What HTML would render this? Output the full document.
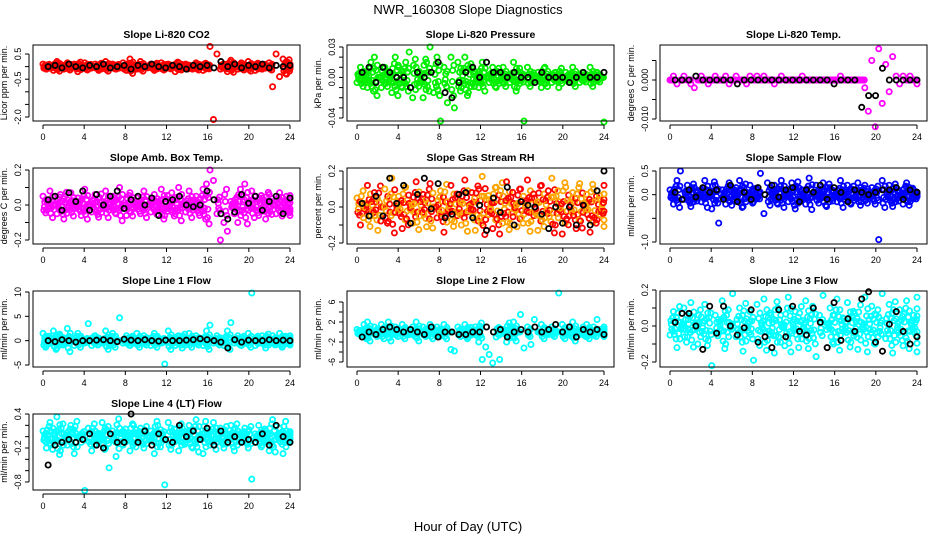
<!DOCTYPE html>
<html><head><meta charset="utf-8"><style>
body{margin:0;background:#fff;}
svg{font-family:"Liberation Sans",sans-serif;}
</style></head><body>
<svg id="c" width="936" height="540" xmlns="http://www.w3.org/2000/svg">
<rect width="936" height="540" fill="#fff"/>
<text x="468" y="14" text-anchor="middle" font-size="13">NWR_160308  Slope Diagnostics</text>
<text x="468" y="531" text-anchor="middle" font-size="13">Hour of Day (UTC)</text>
</svg>
<script>
const xTicks=[0,4,8,12,16,20,24];
const co2Col=[0.1,-0.1,0.05,-0.15,0.2,0,-0.1,0.15,-0.05,0.1,-0.2,0.05,0.15,-0.1,0,0.1,-0.15,0.05,0.2,-0.05,0.1,-0.1,0,0.15,-0.15,0.3,0.05,-0.1,0.2,0,-0.05,0.1,-0.15,0.05,0.15,-0.1,0.1,0,-0.2,0.15,-0.05,0.1,0.05,-0.1,0.15,0,-0.15,0.1,0.8,-2.1,0.5,-0.1,0.1,-0.2,0.25,0,-0.1,0.15,-0.05,0.2,0,-0.15,0.1,-0.1,0.05,0.15,-0.8,0.5,-0.4,0.3,-0.3,0.1];
const co2Blk=[0,0.05,-0.05,0.1,0,-0.05,0.05,0,0.1,-0.05,0,0.05,-0.1,0.05,0,0.1,0,-0.05,0.05,0,-0.1,0.05,0,0.05,-0.05,0.2,0,0.1,-0.05,0.05,0,0.1,-0.05,0.05,0,0.05];
const presCol=[-0.005,0.01,0.005,-0.01,0.015,0.02,0,-0.01,0.01,0.005,-0.015,0.02,0.01,-0.01,0.015,0.025,-0.02,0.01,0.005,-0.02,0.015,0.03,-0.015,0.02,-0.043,0.01,-0.025,0.02,-0.03,0.015,-0.01,0.02,-0.015,0.01,0.005,-0.01,0.015,0,-0.005,0.01,-0.01,0.005,0.01,0,-0.005,0.015,-0.01,0.005,-0.043,0.01,-0.005,0,0.005,-0.01,0.01,0,-0.005,0.005,-0.01,0,0.005,-0.005,0.01,0,-0.005,0.005,0,0.01,-0.005,0.005,0,-0.044];
const presBlk=[0.005,0.01,-0.005,0.01,0.005,0,0,-0.01,0.005,0,0.005,0.015,-0.015,-0.02,-0.005,0.005,0.01,0,0.015,0.005,0.005,0,0.005,0,0,-0.005,0.005,0,0,0,-0.005,0,0.005,0,0,0.005];
const tempCol=[0,0.001,-0.001,0,0.001,0,-0.001,-0.002,0,0.001,0,-0.001,0,0.001,0,0,0.001,-0.001,0,0.001,0,0,-0.001,0.001,0,0.001,0,0.001,0,0,-0.001,0,0.001,0,0,0,0,0,0.001,0,0,0,0,0,0,0,0,0,0,0.001,0,0,0,0,0,0,-0.002,-0.008,0.005,-0.012,0.008,-0.006,0.004,-0.003,0.006,0.001,-0.001,0.001,0,0.001,0,-0.001];
const tempBlk=[0,0,0,0.001,0,0,0,0,0,-0.001,0,0,0,0,0,0,0,0,0,0,0,0,0,-0.001,0,0,0,-0.007,-0.004,-0.004,0.003,0,0,0,0,0];
const ambCol=[0.05,-0.03,0.08,0,-0.05,0.06,-0.08,0.03,0.07,-0.02,0.04,-0.06,0.09,0,-0.04,0.06,-0.07,0.02,0.08,-0.03,0.05,-0.05,0.1,0,-0.06,0.07,-0.02,0.04,-0.05,0.08,0,-0.04,0.06,-0.03,0.09,-0.06,0.03,0.07,-0.05,0.1,0,-0.04,0.08,-0.03,0.05,-0.06,0.09,0.12,0.2,0.14,-0.05,-0.2,-0.1,-0.15,0.02,-0.05,-0.1,0.05,0.12,-0.03,0.08,0.05,-0.06,0.04,-0.08,0.06,0,-0.05,0.07,-0.03,0.05,-0.06];
const ambBlk=[0.03,0.05,-0.03,0.07,0.02,0.08,-0.03,0.06,0,0.05,0.08,-0.02,0.03,0.05,0,0.04,-0.06,0.02,0.03,0.05,0,-0.01,0,0.08,0.03,-0.05,-0.08,-0.04,0.06,0.01,0.05,-0.03,0.02,0.05,-0.05,0.04];
const rhCol=[0.05,-0.1,0.02,0.12,-0.05,0.08,-0.13,0,0.1,-0.08,0.16,-0.03,0.06,-0.12,0.11,0.02,-0.09,0.14,-0.05,0.07,-0.11,0.13,0,-0.06,0.09,-0.14,0.03,0.12,-0.08,0.05,-0.1,0.15,-0.02,0.08,-0.13,0.1,0.17,-0.07,0.04,-0.12,0.11,-0.15,0.06,0.14,-0.09,0.02,-0.11,0.1,-0.04,0.15,-0.08,0.05,-0.13,0.12,-0.06,0.09,0.16,-0.1,0.03,-0.15,0.11,-0.05,0.08,-0.12,0.13,-0.03,0.07,-0.14,0.1,-0.07,0.04,0.12];
const rhBlk=[0.02,-0.05,0.06,-0.05,0.16,0.02,0.12,-0.09,0.07,0.16,-0.01,0.13,-0.06,-0.04,0.07,0.08,-0.06,0.01,-0.13,0.05,-0.03,0.11,-0.1,0.03,0.01,0,-0.04,-0.12,0,-0.09,0,-0.1,0.01,-0.1,0.09,0.2];
const flowCol=[0.1,-0.2,0.3,0.5,-0.1,0.2,-0.25,0.15,0.05,-0.15,0.3,-0.05,-0.3,0.2,-0.6,0.1,-0.2,0.25,-0.1,0.15,0.3,-0.25,0.05,0.2,-0.15,0.1,0.45,-0.4,0.25,-0.1,0.2,-0.2,0.3,0.05,-0.15,0.25,-0.3,0.15,0.1,-0.2,0.35,-0.05,0.2,-0.1,0.25,-0.25,0.15,0.05,-0.15,0.3,-0.1,0.2,-0.2,0.1,0.25,-0.15,0.2,-0.05,0.15,-0.2,-0.95,0.3,-0.1,0.2,-0.25,0.15,0.05,-0.2,0.25,-0.15,0.1,0.05];
const flowBlk=[0.05,-0.1,0.1,-0.05,0.15,0.05,0.1,-0.1,0.2,-0.15,0.05,-0.1,0.15,0,0.2,-0.05,0.1,0.15,-0.15,0.1,0.05,0.2,-0.1,0.15,0.05,-0.15,0.1,0.05,0,0.05,0.1,0.1,0.15,-0.1,0.1,0.05];
const l1Col=[1.5,-1,0.5,2,-1.5,1,-0.5,2.5,0,-1,1.5,0.5,-0.5,3.5,-1,1,0.5,-0.5,2,-1,1.5,0,4.7,-0.5,1,-1,0.5,1.5,-0.5,1,0,-1,1.5,0.5,-0.5,-4.8,2,0.5,-1,1,-1.5,0.5,1.5,-0.5,1,0,-1,2,3.2,-0.5,1,0.5,-1,2,3.7,-0.5,1,-1,0.5,1.5,9.8,-1,0.5,1,-1.5,0.5,1,-0.5,1.5,-1,0.5,1];
const l1Blk=[0,-0.2,0.2,0,-0.3,0,0,0.1,0.2,0,-0.2,0.3,0.1,0,0.2,0,-0.1,0.1,0,0,0.1,0.2,0.4,0.2,0,-0.3,-1.5,0.2,-0.3,0.1,0,0,0.2,0,0.1,0];
const l2Col=[0.5,-0.5,1.5,2,0,1,-0.5,1.5,0.5,2,-0.5,1,0,1.5,0.5,-0.5,1,2,0,1,-0.5,1.5,0,1,-0.5,1.5,0,-3.5,-3.8,1,0,1.5,-1,-0.5,1,-2,-5.5,-3,-4.5,-6.2,-1,-5.5,0.5,-2,1,2,0,3.5,-3.2,1,-2.5,2.5,0,1.5,0.5,-0.5,1,0,7.8,1.5,-0.5,1,2,0,-0.5,1,1.5,0,1,2.5,0.5,1];
const l2Blk=[-1,0,-0.5,0.5,1,0.5,0,0.5,0,-0.5,1,-1,0,0,-0.5,-0.5,0,0,1,0,0.5,-1,0,0.5,0,1,0,0.5,1.5,0,1,-1,0.5,0,0.5,-0.5];
const l3Col=[-0.05,0.08,-0.12,0.02,0.1,-0.06,0.13,-0.02,-0.1,0.05,0.12,-0.08,-0.22,0.06,-0.04,0.14,-0.1,0.02,0.18,-0.06,0.1,-0.14,0.04,0.08,-0.19,0.12,-0.03,0.15,-0.08,0.06,-0.15,0.1,0.01,-0.11,0.16,-0.04,0.08,-0.12,0.03,0.14,-0.07,0.11,-0.17,0.06,0.17,-0.02,0.1,-0.1,0.15,-0.05,0.04,0.13,-0.09,0.07,-0.13,0.02,0.16,-0.06,0.11,-0.1,0.05,0.18,-0.07,0.12,-0.15,0.04,0.09,-0.11,0.14,-0.03,0.06,0.16];
const l3Blk=[0.02,0.07,0.07,0,-0.13,0.11,-0.04,0.11,0,-0.05,-0.01,0.09,-0.09,-0.06,-0.12,0.09,-0.06,0.11,-0.03,-0.05,0.1,0.02,-0.12,0.13,-0.08,0.04,-0.03,0.15,0.19,-0.09,-0.14,0.01,0.08,-0.03,-0.1,-0.06];
const l4Col=[0.1,-0.2,0.25,-0.1,0.35,-0.25,0.05,-0.15,0.2,-0.3,0,-0.1,-0.95,0.15,-0.25,0.1,-0.05,0.25,-0.2,-0.55,0.1,-0.35,0.15,-0.15,0.05,-0.25,0.2,-0.1,0.15,-0.2,0,0.1,-0.3,0.2,-0.1,-0.85,0.25,-0.15,0.05,-0.25,0.15,-0.1,0.2,-0.2,0.3,-0.05,-0.3,0.1,-0.15,0.25,-0.1,0.15,-0.2,0.05,0.2,-0.25,0.1,-0.1,0.15,-0.2,-0.75,0.05,0.2,-0.15,0.1,-0.25,0.3,-0.05,0.15,-0.3,0.1,-0.1];
const l4Blk=[-0.5,-0.15,-0.1,-0.05,-0.1,-0.05,0.05,-0.15,-0.2,0.05,-0.1,-0.1,0.4,-0.1,0.1,-0.15,0.05,-0.05,-0.1,0.2,0,0.1,-0.05,0.15,-0.15,0.1,-0.1,0,-0.1,-0.05,-0.1,0.05,-0.15,0.2,0,-0.1];

const panels=[
 {t:'Slope Li-820 CO2',yl:'Licor ppm per min.',r:0,c:0,col:co2Col,blk:co2Blk,clr:'#ff0000',band:0.31,ref:[0.5,54,-2,117],ticks:[0.5,0,-0.5,-1,-1.5,-2],lab:['0.5','-0.5','-2.0'],labV:[0.5,-0.5,-2]},
 {t:'Slope Li-820 Pressure',yl:'kPa per min.',r:0,c:1,col:presCol,blk:presBlk,clr:'#00ee00',band:0.021,ref:[0.03,47,-0.04,118],ticks:[0.03,0.02,0.01,0,-0.01,-0.02,-0.03,-0.04],lab:['0.03','0.00','-0.04'],labV:[0.03,0,-0.04]},
 {t:'Slope Li-820 Temp.',yl:'degrees C per min.',r:0,c:2,col:tempCol,blk:tempBlk,clr:'#ff00ff',band:0,ref:[0,80,-0.01,119],ticks:[0.005,0,-0.005,-0.01],lab:['0.000','-0.010'],labV:[0,-0.01]},
 {t:'Slope Amb. Box Temp.',yl:'degrees C per min.',r:1,c:0,col:ambCol,blk:ambBlk,clr:'#ff00ff',band:0.13,ref:[0.2,170,-0.2,240],ticks:[0.2,0.1,0,-0.1,-0.2],lab:['0.2','0.0','-0.2'],labV:[0.2,0,-0.2]},
 {t:'Slope Gas Stream RH',yl:'percent per min.',r:1,c:1,col:rhCol,blk:rhBlk,clr:'#ffa500',clr2:'#ff0000',band:0.18,ref:[0.2,171,-0.2,243],ticks:[0.2,0.1,0,-0.1,-0.2],lab:['0.2','0.0','-0.2'],labV:[0.2,0,-0.2]},
 {t:'Slope Sample Flow',yl:'ml/min per min.',r:1,c:2,col:flowCol,blk:flowBlk,clr:'#0000ff',band:0.36,ref:[0.5,171,-1,242],ticks:[0.5,0,-0.5,-1],lab:['0.5','0.0','-1.0'],labV:[0.5,0,-1]},
 {t:'Slope Line 1 Flow',yl:'ml/min per min.',r:2,c:0,col:l1Col,blk:l1Blk,clr:'#00ffff',band:2.6,ref:[10,292,-5,365],ticks:[10,5,0,-5],lab:['10','5','0','-5'],labV:[10,5,0,-5]},
 {t:'Slope Line 2 Flow',yl:'ml/min per min.',r:2,c:1,col:l2Col,blk:l2Blk,clr:'#00ffff',band:2.1,ref:[6,302,-6,362],ticks:[6,4,2,0,-2,-4,-6],lab:['6','2','-2','-6'],labV:[6,2,-2,-6]},
 {t:'Slope Line 3 Flow',yl:'ml/min per min.',r:2,c:2,col:l3Col,blk:l3Blk,clr:'#00ffff',band:0.16,ref:[0.2,290,-0.2,362],ticks:[0.2,0.1,0,-0.1,-0.2],lab:['0.2','0.0','-0.2'],labV:[0.2,0,-0.2]},
 {t:'Slope Line 4 (LT) Flow',yl:'ml/min per min.',r:3,c:0,col:l4Col,blk:l4Blk,clr:'#00ffff',band:0.36,ref:[0.4,414,-0.8,482],ticks:[0.4,0.2,0,-0.2,-0.4,-0.6,-0.8],lab:['0.4','-0.2','-0.8'],labV:[0.4,-0.2,-0.8]}
];
const NS='http://www.w3.org/2000/svg';
const svg=document.getElementById('c');
function mk(tag,attrs,parent){const e=document.createElementNS(NS,tag);for(const k in attrs)e.setAttribute(k,attrs[k]);(parent||svg).appendChild(e);return e;}
const colLeft=[33,347,660],rowTop=[45,168,291,414],BW=267,BH=76;
const spreadF=[[0,1],[0.25,-0.6],[0.5,0.35],[0.75,-0.9],[0.4,-0.2],[0.85,0.6]];
panels.forEach((p,pi)=>{
 const L=colLeft[p.c],T=rowTop[p.r],x0=L+10,xw=247;
 const xs=h=>x0+h/24*xw;
 const ys=v=>p.ref[1]+(v-p.ref[0])*(p.ref[3]-p.ref[1])/(p.ref[2]-p.ref[0]);
 const g=mk('g',{});
 
 
 const tt=mk('text',{x:L+BW/2,y:T-7,'text-anchor':'middle','font-size':'10.5','font-weight':'bold'},g);tt.textContent=p.t;
 
 
 const cx=L-26,cy=T+BH/2;
 const yl=mk('text',{x:cx,y:cy,'text-anchor':'middle','font-size':'9',transform:`rotate(-90 ${L-26} ${cy})`},g);yl.textContent=p.yl;
 
 
 const n=p.col.length,dx=24/(n-1);
 p.col.forEach((v,i)=>{
  const inBand=Math.abs(v)<=p.band;
  const set=inBand?spreadF:[[0,1]];
  set.forEach((f,k)=>{
   const c=mk('circle',{cx:xs(Math.min(24,i*dx+f[0]*dx)),cy:ys(v*f[1]),r:2.6,fill:'none',stroke:(p.clr2&&(i+k)%2)?p.clr2:p.clr,'stroke-width':1.8},g);
   
   
  });
 });
 const m=p.blk.length;
 p.blk.forEach((v,i)=>{
  const c=mk('circle',{cx:xs(0.5+i*23.5/(m-1)),cy:ys(v),r:2.6,fill:'none',stroke:'#000','stroke-width':1.8},g);
  
  
 });
 const box=mk('rect',{x:L,y:T,width:BW,height:BH,fill:'none',stroke:'#000','stroke-width':1},g);
 
 
 mk('line',{x1:xs(0),x2:xs(24),y1:T+BH+4,y2:T+BH+4,stroke:'#000'},g);
 xTicks.forEach(h=>{
  mk('line',{x1:xs(h),x2:xs(h),y1:T+BH+4,y2:T+BH+8,stroke:'#000'},g);
  const tx=mk('text',{x:xs(h),y:T+BH+19,'text-anchor':'middle','font-size':'9'},g);tx.textContent=h;
  
  
 });
 const ymin=Math.min(...p.ticks),ymax=Math.max(...p.ticks);
 mk('line',{x1:L-4,x2:L-4,y1:ys(ymax),y2:ys(ymin),stroke:'#000'},g);
 p.ticks.forEach(v=>mk('line',{x1:L-8,x2:L-4,y1:ys(v),y2:ys(v),stroke:'#000'},g));
 p.lab.forEach((s,k)=>{
  const y=ys(p.labV[k]);
  const ty=mk('text',{x:L-12,y:y,'text-anchor':'middle','font-size':'9',transform:`rotate(-90 ${L-12} ${y})`},g);ty.textContent=s;
  
  
 });
});
</script>
</body></html>
